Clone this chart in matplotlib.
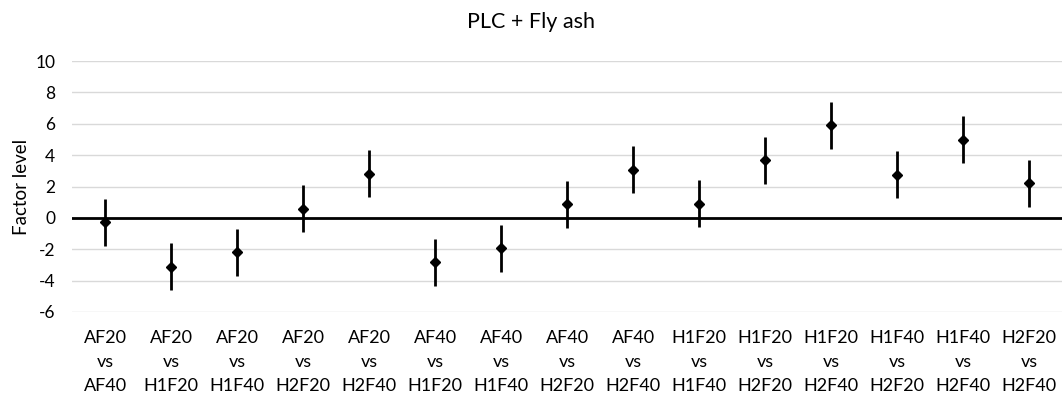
import matplotlib
matplotlib.use("Agg")
import matplotlib.pyplot as plt

plt.rcParams['font.family'] = ['Lato', 'DejaVu Sans']

# Pairwise comparisons of mixes
pairs = ["AF20\nvs\nAF40", "AF20\nvs\nH1F20", "AF20\nvs\nH1F40", "AF20\nvs\nH2F20",
         "AF20\nvs\nH2F40", "AF40\nvs\nH1F20", "AF40\nvs\nH1F40", "AF40\nvs\nH2F20",
         "AF40\nvs\nH2F40", "H1F20\nvs\nH1F40", "H1F20\nvs\nH2F20", "H1F20\nvs\nH2F40",
         "H1F40\nvs\nH2F20", "H1F40\nvs\nH2F40", "H2F20\nvs\nH2F40"]
factor_level = [-0.29, -3.12, -2.20, 0.57, 2.80, -2.84, -1.93, 0.87, 3.08,
                0.90, 3.68, 5.90, 2.76, 4.99, 2.21]
half_interval = [1.5] * 15
y_ticks = [-6, -4, -2, 0, 2, 4, 6, 8, 10]

fig = plt.figure(figsize=(10.63, 4.04), dpi=100)
ax = fig.add_axes([72 / 1063, 1 - 312 / 404, 990 / 1063, 251 / 404])

x = list(range(len(pairs)))
ax.errorbar(x, factor_level, yerr=half_interval, fmt='D', color='black',
            ecolor='black', elinewidth=2.0, markersize=5.5, capsize=0, zorder=3)

ax.set_xlim(-0.5, len(pairs) - 0.5)
ax.set_ylim(-6, 10)
ax.set_yticks(y_ticks)
ax.set_yticklabels([str(v) for v in y_ticks], fontsize=12.5)
ax.yaxis.grid(True, color='#d9d9d9', linewidth=1.0, zorder=0)
ax.axhline(0, color='black', linewidth=2.0, zorder=2)
ax.set_xticks(x)
ax.set_xticklabels(pairs, fontsize=13, linespacing=1.6)
ax.tick_params(axis='both', length=0)
ax.tick_params(axis='x', pad=13)
ax.tick_params(axis='y', pad=12)
for s in ax.spines.values():
    s.set_visible(False)

ax.set_ylabel("Factor level", fontsize=13.5, labelpad=4)
fig.text(531 / 1063, 1 - 22 / 404, "PLC + Fly ash", ha='center', va='center', fontsize=15.5)

fig.savefig("out.png", dpi=100)
